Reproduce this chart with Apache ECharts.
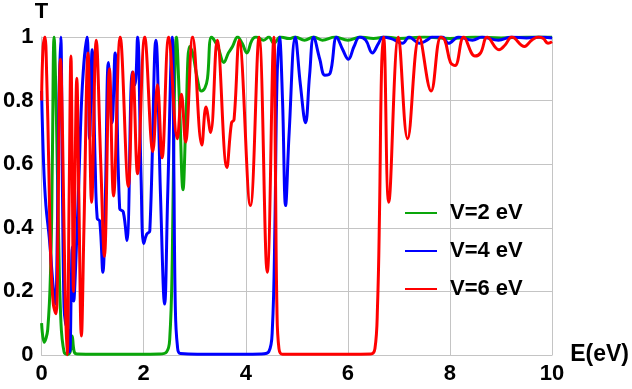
<!DOCTYPE html>
<html><head><meta charset="utf-8">
<script src="https://cdn.jsdelivr.net/npm/echarts@6/dist/echarts.min.js"></script>
<style>html,body{margin:0;padding:0;background:#fff}#c{width:632px;height:389px}</style>
</head><body><div id="c"></div>
<script>
const xTicks = [0, 2, 4, 6, 8, 10];
const yTicks = [0, 0.2, 0.4, 0.6, 0.8, 1];
const seriesNames = ['V=2 eV', 'V=4 eV', 'V=6 eV'];

const v2E = [0,0.05,0.12,0.18,0.21,0.245,0.29,0.33,0.38,0.44,0.5,0.56,0.6,0.64,0.7,1.5,2.3,2.45,2.51,2.56,2.6,2.64,2.7,2.77,2.83,2.9,2.96,3.05,3.13,3.2,3.25,3.33,3.45,3.57,3.66,3.74,3.84,3.93,4.02,4.12,4.2,4.35,4.45,4.55,4.68,4.85,4.97,5.15,5.33,5.5,5.75,6.0,6.25,6.5,6.75,7.0,7.5,8.0,8.5,9.0,9.5,10];
const v2T = [0.1,0.04,0.08,0.29,0.6,1.0,0.75,0.4,0.1,0.01,0.002,0.01,0.06,0.01,0.003,0.002,0.003,0.01,0.05,0.3,0.8,1.0,0.8,0.52,0.75,0.97,0.95,0.87,0.83,0.84,0.87,1.0,0.97,0.92,0.95,0.97,1.0,0.98,0.95,0.99,1.0,0.99,1.0,0.98,1.0,0.995,1.0,0.99,1.0,0.99,1.0,0.99,1.0,0.995,1.0,0.995,1.0,0.995,1.0,0.997,1.0,1.0];

const v4E = [0,0.04,0.085,0.15,0.23,0.27,0.31,0.34,0.375,0.41,0.44,0.47,0.51,0.55,0.58,0.6,0.63,0.67,0.73,0.8,0.89,0.94,0.99,1.05,1.09,1.14,1.2,1.25,1.31,1.38,1.44,1.53,1.6,1.67,1.78,1.83,1.88,1.95,2.0,2.06,2.12,2.24,2.33,2.41,2.47,2.56,2.59,2.62,2.66,2.72,3.5,4.3,4.45,4.52,4.57,4.61,4.66,4.72,4.78,4.85,4.97,5.07,5.17,5.25,5.33,5.45,5.55,5.65,5.78,5.9,6.01,6.12,6.23,6.35,6.48,6.6,6.69,6.85,7.07,7.2,7.3,7.4,7.55,7.65,7.85,7.97,8.17,8.44,8.63,8.95,9.2,9.5,9.75,10];
const v4T = [0.83,0.6,0.47,0.37,0.21,0.16,0.4,0.8,1.0,0.5,0.15,0.1,0.08,0.01,0.2,0.34,0.17,0.29,0.55,0.85,1.0,0.68,0.96,0.6,0.43,0.42,0.26,0.5,0.92,0.73,0.95,0.46,0.45,0.36,0.89,0.85,1.0,0.55,0.35,0.38,0.39,0.99,0.5,0.16,0.5,1.0,0.6,0.15,0.03,0.005,0.002,0.003,0.01,0.08,0.4,0.85,1.0,0.8,0.47,0.7,1.0,0.85,0.73,0.88,1.0,0.93,0.88,0.885,1.0,0.96,0.93,0.97,1.0,0.99,0.95,0.98,1.0,0.995,0.98,1.0,0.99,0.98,0.99,1.0,1.0,0.98,1.0,0.99,1.0,0.99,1.0,0.997,1.0,0.997];

const v6E = [0,0.03,0.065,0.1,0.14,0.18,0.23,0.28,0.31,0.34,0.37,0.41,0.46,0.5,0.54,0.575,0.6,0.625,0.65,0.69,0.73,0.78,0.83,0.91,0.98,1.07,1.16,1.23,1.33,1.41,1.54,1.7,1.79,1.88,2.02,2.18,2.27,2.36,2.49,2.66,2.74,2.82,2.96,3.14,3.22,3.31,3.44,3.63,3.72,3.77,3.87,4.09,4.26,4.42,4.55,4.58,4.61,4.65,4.72,5.5,6.45,6.53,6.58,6.62,6.66,6.7,6.8,6.99,7.17,7.4,7.63,7.82,7.9,8.01,8.1,8.27,8.49,8.6,8.73,8.96,9.08,9.21,9.46,9.6,9.73,9.83,9.92,10];
const v6T = [0.8,0.97,1.0,0.88,0.6,0.3,0.16,0.13,0.25,0.7,0.93,0.7,0.2,0.0,0.5,0.94,0.6,0.2,0.5,0.87,0.5,0.06,0.4,0.95,0.48,0.99,0.6,0.31,0.9,0.5,1.0,0.53,0.89,0.57,1.0,0.64,0.85,0.62,1.0,0.68,0.82,0.67,1.0,0.66,0.78,0.7,0.99,0.59,0.73,0.74,0.99,0.47,1.0,0.26,1.0,0.6,0.15,0.02,0.002,0.002,0.003,0.02,0.15,0.45,0.9,1.0,0.48,1.0,0.68,1.0,0.83,1.0,0.99,0.92,0.91,1.0,0.94,0.95,1.0,0.96,0.975,1.0,0.97,0.99,1.0,0.995,0.98,0.985];

const colors = ['#0aa60a', '#0000ff', '#ff0000'];
const zip = (a, b) => a.map((v, i) => [v, b[i]]);
const datasets = [zip(v2E, v2T), zip(v4E, v4T), zip(v6E, v6T)];

const chart = echarts.init(document.getElementById('c'), null, {renderer: 'canvas'});
const font = {fontFamily: 'Liberation Sans, Arial, sans-serif', fontWeight: 'bold', fontSize: 22, color: '#000'};
chart.setOption({
  animation: false,
  grid: {left: 39, right: 78, top: 37, bottom: 34, containLabel: false},
  xAxis: {
    type: 'value', min: xTicks[0], max: xTicks[xTicks.length - 1], interval: 2,
    name: 'E(eV)', nameLocation: 'end', nameGap: 12,
    nameTextStyle: Object.assign({}, font, {fontSize: 23, padding: [10, 0, 0, 0]}),
    axisLine: {show: true, lineStyle: {color: '#c4c4c4', width: 1}},
    axisTick: {show: false},
    axisLabel: Object.assign({}, font, {margin: 8}),
    splitLine: {show: true, lineStyle: {color: '#c4c4c4', width: 1}}
  },
  yAxis: {
    type: 'value', min: yTicks[0], max: yTicks[yTicks.length - 1], interval: 0.2,
    name: 'T', nameLocation: 'end', nameGap: 14,
    nameTextStyle: Object.assign({}, font),
    axisLine: {show: true, lineStyle: {color: '#c4c4c4', width: 1}},
    axisTick: {show: false},
    axisLabel: Object.assign({}, font, {margin: 8}),
    splitLine: {show: true, lineStyle: {color: '#c4c4c4', width: 1}}
  },
  legend: {
    left: 400, top: 197, orient: 'vertical', itemWidth: 32, itemHeight: 14, itemGap: 16,
    icon: 'path://M0,6 L32,6 L32,8 L0,8 Z',
    textStyle: Object.assign({}, font, {padding: [0, 0, 0, 8]}),
    data: seriesNames
  },
  series: seriesNames.map((n, i) => ({
    name: n, type: 'line', data: datasets[i], showSymbol: false, symbol: 'none',
    smooth: 0.4, color: colors[i],
    lineStyle: {color: colors[i], width: 3}, itemStyle: {color: colors[i]}
  }))
});
</script></body></html>
